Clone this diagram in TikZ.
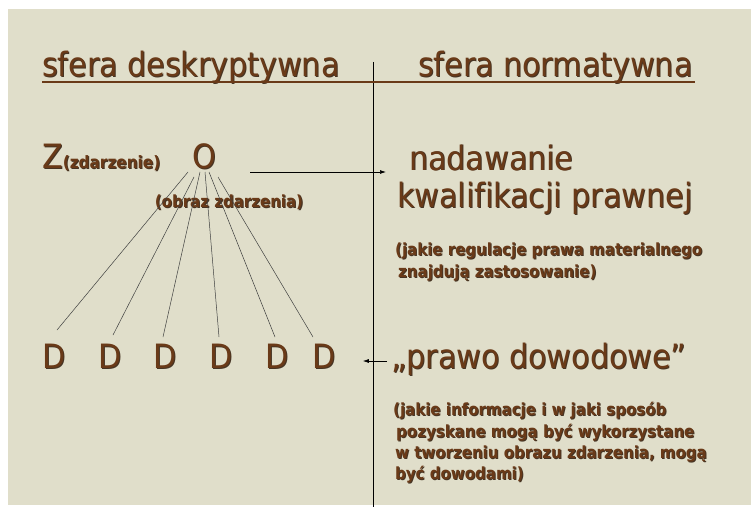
\documentclass[tikz,border=0pt]{standalone}
\usepackage{fontspec}
\setmainfont{DejaVu Sans Condensed}[BoldFont={DejaVu Sans Condensed Bold},Ligatures={NoCommon}]
\usetikzlibrary{calc,arrows.meta}
\definecolor{paper}{RGB}{224,222,202}
\definecolor{ink}{RGB}{106,58,24}
\definecolor{shade}{RGB}{70,52,36}
\newcommand{\sh}[1]{\rlap{\kern1pt\raisebox{-1pt}{\color{shade}#1}}#1}
\tikzset{
  big/.style={anchor=base west, inner sep=0pt, text=ink, font=\fontsize{33.5}{38}\selectfont},
  small/.style={anchor=base west, inner sep=0pt, text=ink, font=\fontsize{16.7}{20}\selectfont\bfseries},
  letter/.style={anchor=base, inner sep=0pt, text=ink, font=\fontsize{33.5}{38}\selectfont},
  fan/.style={line width=0.5pt, color=black!75},
  arr/.style={line width=0.7pt, -{Latex[length=6pt,width=4pt]}},
}

\begin{document}
\begin{tikzpicture}[x=1pt,y=-1pt]
			%%%%% START %%%%%
			\useasboundingbox (0,0) rectangle (751,513);
			\fill[white] (0,0) rectangle (751,513);
			\fill[paper] (8,9) rectangle (751,505);
			
			\draw[line width=0.8pt] (373,62) -- (373,507);
			
			\node[big] (desc) at (42,77) {\sh{sfera deskryptywna}};
			\node[big] (norm) at (418,77) {\sh{sfera normatywna}};
			\draw[ink, line width=2pt] ([yshift=-5pt]desc.base west) -- ([yshift=-5pt,xshift=2pt]norm.base east);
			
			\node[big] (z) at (42,168) {\sh{Z}{\fontsize{17}{20}\selectfont\bfseries\sh{(zdarzenie)}}};
			\node[letter] (o) at (204,168) {\sh{O}};
			\node[small, anchor=base] (obraz) at (229,207) {\sh{(obraz zdarzenia)}};
			
			\node[letter] (d1) at (54,368) {\sh{D}};
			\node[letter] (d2) at (110,368) {\sh{D}};
			\node[letter] (d3) at (165,368) {\sh{D}};
			\node[letter] (d4) at (221,368) {\sh{D}};
			\node[letter] (d5) at (277,368) {\sh{D}};
			\node[letter] (d6) at (324,368) {\sh{D}};
			
			\draw[fan] ($(o.base)+(-16,4)$) -- ($(d1.base)+(3,-38)$);
			\draw[fan] ($(o.base)+(-10,9)$) -- ($(d2.base)+(3,-33)$);
			\draw[fan] ($(o.base)+(-4,4)$) -- ($(d3.base)+(-2,-31)$);
			\draw[fan] ($(o.base)+(1,4)$) -- ($(d4.base)+(-2,-31)$);
			\draw[fan] ($(o.base)+(5,4)$) -- ($(d5.base)+(-2,-31)$);
			\draw[fan] ($(o.base)+(14,9)$) -- ($(d6.base)+(-11,-31)$);
			
			\node[big] (nad) at (409,170) {\sh{nadawanie}};
			\node[big] (kwal) at (397,207) {\sh{kwalifikacji prawnej}};
			\node[small] (mat1) at (395,255) {\sh{(jakie regulacje prawa materialnego}};
			\node[small] (mat2) at (398,277) {\sh{znajdują zastosowanie)}};
			
			\node[big] (dow) at (391,368) {\sh{„prawo dowodowe”}};
			\node[small] (inf1) at (393,415) {\sh{(jakie informacje i w jaki sposób}};
			\node[small] (inf2) at (396,437) {\sh{pozyskane mogą być wykorzystane}};
			\node[small] (inf3) at (395,458) {\sh{w tworzeniu obrazu zdarzenia, mogą}};
			\node[small] (inf4) at (395,479) {\sh{być dowodami)}};
			
			\draw[arr] ([xshift=34pt,yshift=-4pt]o.base east) -- ([xshift=-23pt,yshift=-2pt]nad.base west);
			\draw[arr] ([xshift=-4pt,yshift=7pt]dow.base west) -- ([xshift=27pt,yshift=7pt]d6.base east);
			%%%%% END %%%%%
\end{tikzpicture}
\end{document}
